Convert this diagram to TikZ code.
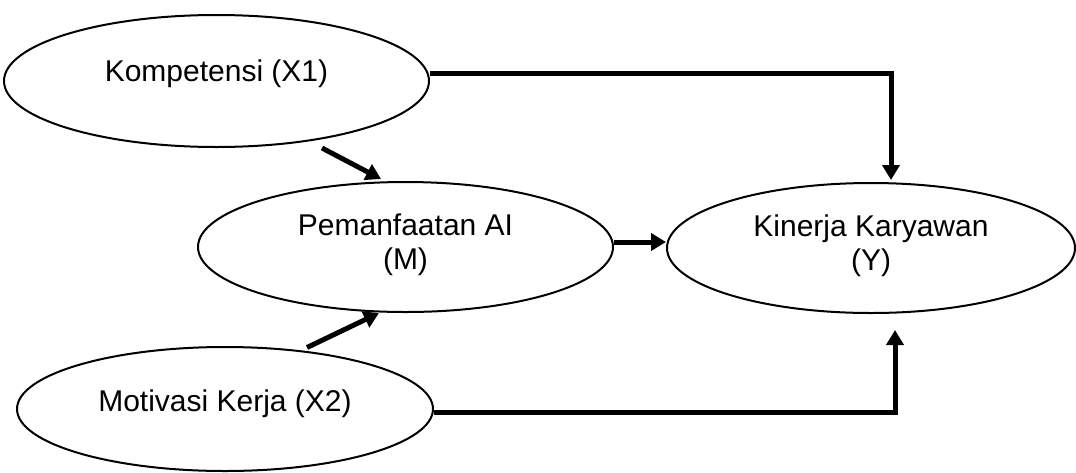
\documentclass[tikz,border=0pt]{standalone}
\usepackage{fontspec}
\setmainfont{Liberation Sans}
\usetikzlibrary{shapes.geometric,arrows.meta,calc}
\begin{document}
\begin{tikzpicture}[x=0.5pt,y=-0.5pt,
  oval/.style={ellipse,draw,line width=1pt,inner sep=0pt},
  txt/.style={align=center,inner sep=0pt,font=\fontsize{15}{17}\selectfont},
  conn/.style={line width=2.5pt,-{Triangle[width=8.5pt,length=7.5pt]}}]
\useasboundingbox (0,0) rectangle (1076,472);
\node[oval,minimum width=212.5pt,minimum height=66pt,
  label={[txt,yshift=3.5pt]center:Kompetensi (X1)}] (X1) at (216.5,81) {};
\node[oval,minimum width=207.5pt,minimum height=65pt,
  label={[txt,yshift=1pt]center:Pemanfaatan AI\\(M)}] (M) at (405.5,247) {};
\node[oval,minimum width=204pt,minimum height=65pt,
  label={[txt,yshift=1pt]center:Kinerja Karyawan\\(Y)}] (Y) at (871,248) {};
\node[oval,minimum width=208pt,minimum height=62pt,
  label={[txt,yshift=2.5pt]center:Motivasi Kerja (X2)}] (X2) at (225,409) {};
\draw[conn] ($(X1.east)+(0,-7.5)$) -| ($(Y.north)+(20,-2)$);
\draw[conn] ($(X2.east)+(0,3)$) -| ($(Y.south)+(24,16)$);
\draw[conn] ($(M.east)+(0,-5)$) -- ($(Y.west)+(0,-6)$);
\draw[conn] ($(X1.center)+(105.5,67)$) -- ($(M.center)+(-24.5,-68)$);
\draw[conn] ($(X2.center)+(82,-61.5)$) -- ($(M.center)+(-26.5,66)$);
\end{tikzpicture}
\end{document}
